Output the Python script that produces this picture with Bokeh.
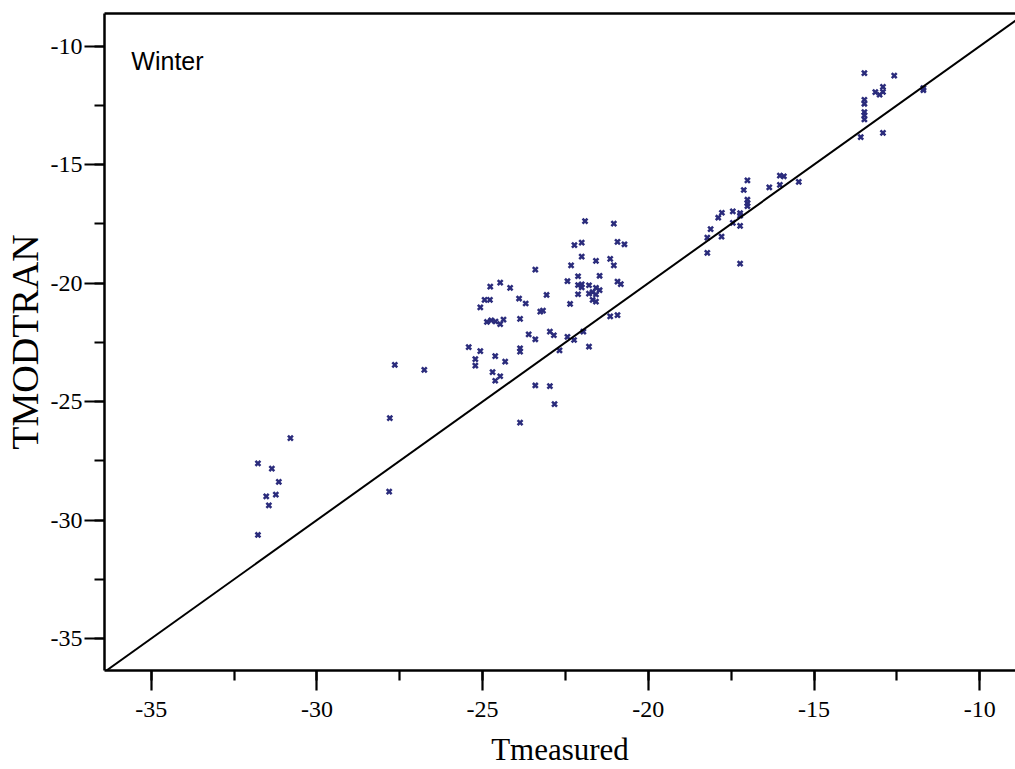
from bokeh.plotting import figure
from bokeh.models import (Range1d, LinearAxis, FixedTicker, SingleIntervalTicker,
                          Slope, Label, CustomJSTickFormatter)
from bokeh.embed import file_html
from bokeh.resources import INLINE

# Winter: measured vs MODTRAN temperatures
tmeasured = [
    -31.78, -31.36, -31.15, -31.53, -31.24, -31.45, -31.78, -30.80, -27.82, -27.80,
    -27.65, -26.76,
    -24.77, -24.47, -24.17, -24.94, -24.78, -25.07, -23.90, -23.70, -23.07, -22.44,
    -22.36, -23.26, -23.18, -24.87, -24.74, -24.61, -24.47, -24.37, -23.87, -23.61,
    -23.41, -22.97, -22.85, -22.44, -22.68, -25.42, -25.07, -23.87, -23.87, -25.22,
    -25.22, -24.62, -24.32, -24.70, -24.47, -24.62, -23.41, -22.97, -22.83, -23.87,
    -23.41, -21.91, -21.04, -22.23, -22.01, -20.93, -20.72, -22.01, -22.33, -21.58,
    -21.15, -21.04, -21.47, -22.12, -22.12, -22.01, -22.01, -20.93, -20.83, -21.79,
    -21.58, -21.47, -21.68, -21.79, -21.58, -22.12, -21.68, -21.58, -21.15, -20.93,
    -21.96, -22.24, -21.79,
    -17.01, -16.03, -15.91, -16.03, -16.35, -15.46, -17.12, -17.01, -17.01, -17.01,
    -17.45, -17.23, -17.23, -17.78, -17.89, -17.45, -17.23, -18.12, -18.22, -17.79,
    -18.22, -17.23,
    -13.48, -12.58, -12.92, -12.92, -13.15, -13.02, -11.70, -11.70, -13.48, -13.48,
    -13.48, -13.48, -13.48, -12.92, -13.59,
]
tmodtran = [
    -27.61, -27.83, -28.39, -29.00, -28.93, -29.38, -30.63, -26.54, -28.80, -25.70,
    -23.45, -23.66,
    -20.15, -19.98, -20.20, -20.71, -20.71, -21.02, -20.65, -20.86, -20.50, -19.92,
    -20.88, -21.20, -21.16, -21.64, -21.57, -21.62, -21.73, -21.54, -21.51, -22.16,
    -22.37, -22.05, -22.20, -22.27, -22.84, -22.70, -22.87, -22.75, -22.89, -23.21,
    -23.48, -23.08, -23.31, -23.76, -23.93, -24.12, -24.32, -24.35, -25.11, -25.89,
    -19.43, -17.38, -17.49, -18.40, -18.29, -18.26, -18.36, -18.88, -19.25, -19.06,
    -18.98, -19.25, -19.69, -19.71, -20.08, -20.05, -20.18, -19.94, -20.04, -20.09,
    -20.20, -20.30, -20.38, -20.44, -20.48, -20.47, -20.71, -20.78, -21.40, -21.35,
    -22.05, -22.40, -22.68,
    -15.66, -15.46, -15.49, -15.85, -15.96, -15.73, -16.07, -16.48, -16.63, -16.75,
    -16.97, -17.05, -17.15, -17.03, -17.24, -17.46, -17.58, -17.72, -18.08, -18.04,
    -18.72, -19.18,
    -11.14, -11.24, -11.72, -11.93, -11.94, -12.05, -11.77, -11.86, -12.26, -12.43,
    -12.78, -12.92, -13.09, -13.66, -13.84,
]

x_title = "Tmeasured"
y_title = "TMODTRAN"
panel_label = "Winter"

p = figure(width=1015, height=769, output_backend="svg", toolbar_location=None,
           x_range=Range1d(-36.41, -8.92), y_range=Range1d(-36.35, -8.62),
           min_border_left=103, min_border_right=0, min_border_top=13,
           min_border_bottom=98)
p.outline_line_color = None
p.grid.visible = False
p.background_fill_color = "white"
p.border_fill_color = "white"

ticker = SingleIntervalTicker(interval=5, num_minor_ticks=2)
fmt = CustomJSTickFormatter(code="return tick.toFixed(0);")
for ax in (p.xaxis[0], p.yaxis[0]):
    ax.ticker = ticker
    ax.formatter = fmt
    ax.axis_line_width = 2.5
    ax.axis_line_color = "black"
    ax.major_tick_line_width = 2.2
    ax.minor_tick_line_width = 2.2
    ax.major_tick_line_color = "black"
    ax.minor_tick_line_color = "black"
    ax.major_tick_out = 20
    ax.major_tick_in = 0
    ax.minor_tick_out = 10
    ax.minor_tick_in = 0
    ax.major_label_text_font = "Liberation Serif"
    ax.major_label_text_font_size = "24px"
    ax.major_label_text_color = "black"
    ax.axis_label_text_font = "Liberation Serif"
    ax.axis_label_text_font_style = "normal"
    ax.axis_label_text_color = "black"

p.xaxis[0].axis_label = x_title
p.yaxis[0].axis_label = y_title
p.xaxis[0].axis_label_text_font_size = "31px"
p.yaxis[0].axis_label_text_font_size = "38px"
p.xaxis[0].major_label_standoff = 11
p.yaxis[0].major_label_standoff = 2
p.xaxis[0].axis_label_standoff = 12
p.yaxis[0].axis_label_standoff = 2

top = LinearAxis(ticker=FixedTicker(ticks=[]), major_tick_out=0, major_tick_in=0,
                 minor_tick_out=0, minor_tick_in=0, major_label_text_font_size="0px",
                 axis_line_width=2.5, axis_line_color="black")
p.add_layout(top, "above")

p.add_layout(Slope(gradient=1, y_intercept=0, line_color="black", line_width=2))

p.scatter(tmeasured, tmodtran, marker="x", size=7, line_width=2.5,
          line_color="#2B2C7C")

p.add_layout(Label(x=-35.6, y=-10.63, text=panel_label, text_font="Liberation Sans",
                   text_font_size="25px", text_color="black",
                   text_baseline="alphabetic"))

open("out.html", "w").write(file_html(p, INLINE))
